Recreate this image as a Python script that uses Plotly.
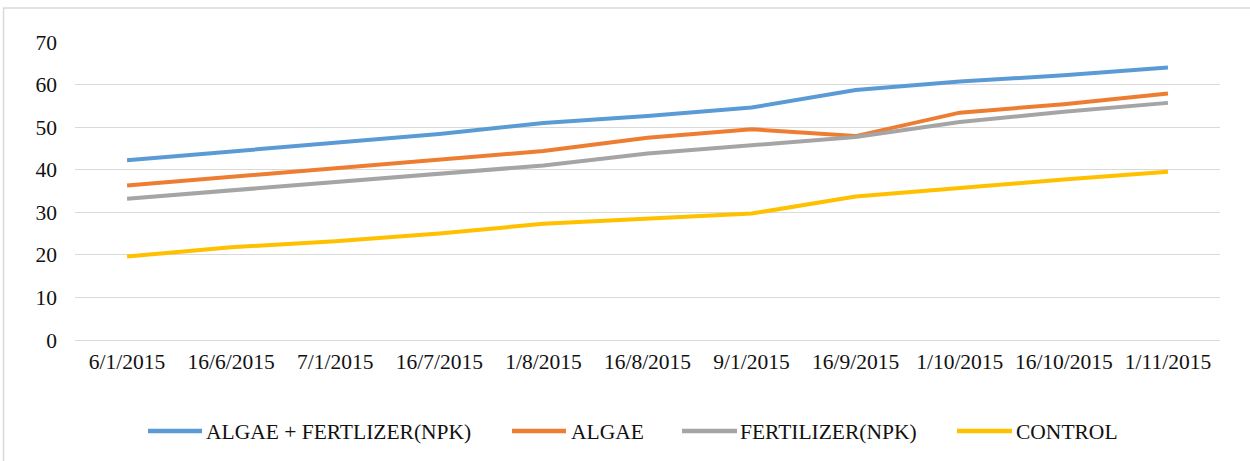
import plotly.graph_objects as go

dates = ["6/1/2015", "16/6/2015", "7/1/2015", "16/7/2015", "1/8/2015", "16/8/2015",
         "9/1/2015", "16/9/2015", "1/10/2015", "16/10/2015", "1/11/2015"]
algae_fert = [42.2, 44.3, 46.4, 48.4, 51.0, 52.6, 54.6, 58.7, 60.7, 62.2, 64.0]
algae = [36.3, 38.3, 40.4, 42.4, 44.4, 47.5, 49.5, 47.9, 53.4, 55.4, 57.9]
fertilizer = [33.2, 35.1, 37.1, 38.9, 41.0, 43.8, 45.7, 47.7, 51.2, 53.6, 55.7]
control = [19.6, 21.8, 23.2, 25.0, 27.3, 28.5, 29.7, 33.7, 35.8, 37.7, 39.5]

series_names = ["ALGAE + FERTLIZER(NPK)", "ALGAE", "FERTILIZER(NPK)", "CONTROL"]
series_values = [algae_fert, algae, fertilizer, control]
series_colors = ["#5B9BD5", "#ED7D31", "#A5A5A5", "#FFC000"]

# legend layout (page pixels): symbol start, symbol end, text start
legend_pos = [(148, 202, 204), (512, 566, 569), (682, 737, 738), (957, 1012, 1014)]

W, H = 1250, 461
PLOT_L, PLOT_W, PLOT_T, PLOT_H = 75, 1145, 42, 298

def px_x(p):
    return (p - PLOT_L) / PLOT_W

def px_y(p):
    return 1 - (p - PLOT_T) / PLOT_H

fig = go.Figure()
for name, vals, color in zip(series_names, series_values, series_colors):
    fig.add_trace(go.Scatter(x=dates, y=vals, name=name, mode="lines",
                             line=dict(color=color, width=4), showlegend=False))

font = dict(family="Liberation Serif", size=21.5, color="#111111")
fig.update_layout(
    width=W, height=H,
    margin=dict(l=PLOT_L, r=W - PLOT_L - PLOT_W, t=PLOT_T,
                b=H - PLOT_T - PLOT_H, pad=0),
    paper_bgcolor="white", plot_bgcolor="white",
    font=font,
    showlegend=False,
    xaxis=dict(type="category", range=[-0.5, len(dates) - 0.5], showgrid=False,
               showline=False, zeroline=False, ticks="", tickfont=font,
               ticklabelstandoff=6),
    yaxis=dict(range=[0, 70], dtick=10, showgrid=True, gridcolor="#D9D9D9", gridwidth=1.3,
               zeroline=True, zerolinecolor="#D9D9D9", zerolinewidth=1.3,
               showline=False, ticks="", tickfont=font, ticklabelstandoff=17),
)

legend_y = px_y(431)
for (s0, s1, t0), name, color in zip(legend_pos, series_names, series_colors):
    fig.add_shape(type="line", xref="paper", yref="paper",
                  x0=px_x(s0), x1=px_x(s1), y0=legend_y, y1=legend_y,
                  line=dict(color=color, width=4.5))
    fig.add_annotation(xref="paper", yref="paper", x=px_x(t0), y=px_y(432),
                       xanchor="left", yanchor="middle", text=name, showarrow=False,
                       font=font)

fig.add_shape(type="rect", xref="paper", yref="paper",
              x0=px_x(3.5), x1=px_x(1262), y0=px_y(470), y1=px_y(8),
              line=dict(color="#D9D9D9", width=1.5), fillcolor="rgba(0,0,0,0)", layer="below")
fig.write_html("out.html", config={"displayModeBar": False},
               post_script="document.body.style.margin='0';document.body.style.padding='0';")
